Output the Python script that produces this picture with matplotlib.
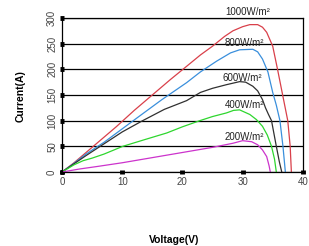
import numpy as np
import matplotlib
matplotlib.use("Agg")
import matplotlib.pyplot as plt

plt.rcParams['font.family'] = ['Liberation Sans', 'DejaVu Sans']

# I-V curves (voltage V, current A)
v_1000 = [0, 2, 4, 6, 9, 12, 15, 18, 20.3, 23, 25, 27, 28.4, 30, 31.2, 32.5, 33.3, 34, 35, 35.8, 36.7, 37.5, 37.9, 38.1]
i_1000 = [0, 18, 38, 58, 88, 120, 150, 180, 202, 228, 245, 264, 275, 283, 287, 287, 282, 272, 245, 200, 147, 100, 50, 0]
v_800 = [0, 2, 4, 7, 10, 13, 16.6, 20.7, 23, 25.7, 28, 29.5, 31.7, 32.5, 33.3, 34.2, 35, 35.6, 36.2, 36.7, 37.1]
i_800 = [0, 17, 35, 58, 84, 110, 141, 174, 195, 216, 232, 238, 239, 234, 220, 195, 155, 130, 100, 50, 0]
v_600 = [0, 2, 4, 7, 10, 13.4, 17, 20.7, 23, 25, 27.3, 29.5, 30.5, 31.7, 32.5, 33.3, 33.8, 34.3, 34.8, 35.6, 36.1, 36.5]
i_600 = [0, 16, 32, 55, 78, 100, 122, 139, 155, 163, 170, 176, 175, 167, 158, 141, 125, 112, 100, 50, 20, 0]
v_400 = [0, 2, 3.5, 5, 7, 10.1, 14, 17.4, 20, 22.9, 25, 27.3, 28.5, 29.5, 31.2, 32.3, 33.3, 34.1, 34.8, 35.3, 35.6]
i_400 = [0, 14, 22, 27, 35, 50, 64, 76, 88, 100, 108, 115, 120, 121, 112, 102, 89, 72, 50, 25, 0]
v_200 = [0, 3, 6, 10, 14, 18, 22, 25, 28.4, 30, 31.5, 32.5, 33.3, 34, 34.4, 34.6]
i_200 = [0, 6, 11, 18, 26, 34, 42, 48, 56, 61, 59, 53, 43, 30, 12, 0]

curves = [
    (v_1000, i_1000, '#d9404a', '1000W/m²', 30.8, 312),
    (v_800, i_800, '#3a8fdc', '800W/m²', 30.3, 251),
    (v_600, i_600, '#303030', '600W/m²', 30.0, 184),
    (v_400, i_400, '#2ed62e', '400W/m²', 30.3, 131),
    (v_200, i_200, '#cc33cc', '200W/m²', 30.3, 69),
]

fig = plt.figure(figsize=(3.09, 2.46), dpi=100)
ax = fig.add_axes([0.2006, 0.3008, 0.7794, 0.6262])

for v, i, col, lab, lx, ly in curves:
    ax.plot(v, i, color=col, lw=0.9)
    ax.text(lx, ly, lab, fontsize=7, color='#222222', ha='center', va='center', clip_on=False)

ax.set_xlim(0, 40)
ax.set_ylim(0, 300)
ax.set_xticks([0, 10, 20, 30, 40])
ax.set_yticks([0, 50, 100, 150, 200, 250, 300])
ax.yaxis.grid(True, color='black', lw=0.9)
ax.set_axisbelow(True)
for s in ax.spines.values():
    s.set_color('black')
    s.set_linewidth(0.9)
ax.tick_params(direction='inout', length=3, width=3.5, labelsize=7, colors='black', labelcolor='#444444', pad=2)
ax.tick_params(axis='y', labelrotation=90)
for t in ax.get_yticklabels():
    t.set_va('center')

fig.text(0.066, 0.61, 'Current(A)', rotation=90, fontsize=7.5, fontweight='bold', ha='center', va='center')
fig.text(0.565, 0.025, 'Voltage(V)', fontsize=7.5, fontweight='bold', ha='center', va='center')

fig.savefig('out.png', dpi=100)
